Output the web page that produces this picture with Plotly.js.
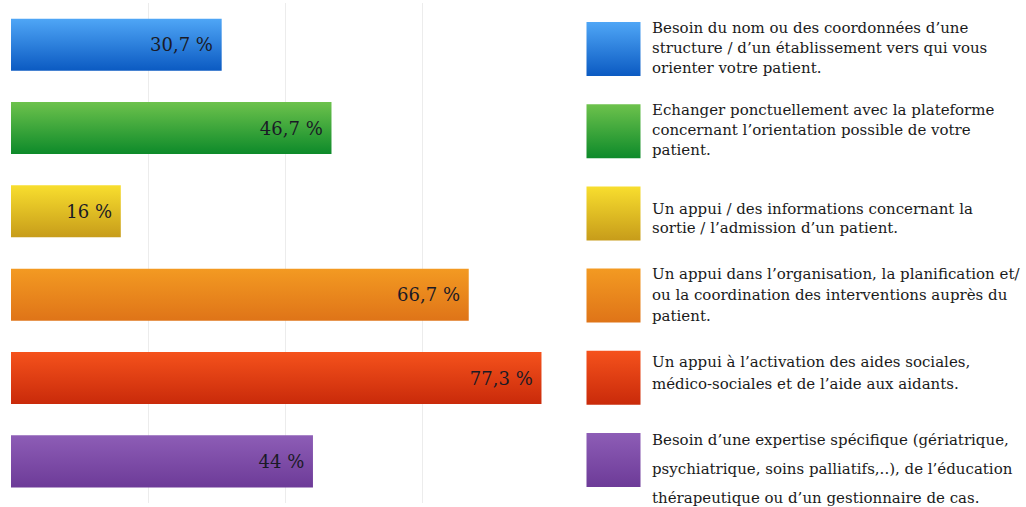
<!DOCTYPE html>
<html>
<head>
<meta charset="utf-8">
<script src="https://cdn.plot.ly/plotly-3.0.1.min.js"></script>
<style>html,body{margin:0;padding:0;background:#fff;}#chart{width:1026px;height:507px;}</style>
</head>
<body>
<div id="chart"></div>
<script>
// ---- data ----
const categories = ["besoin_nom", "echanger", "sortie", "organisation", "aides_sociales", "expertise"];
const values = [30.7, 46.7, 16, 66.7, 77.3, 44];
const valueLabels = ["30,7 %", "46,7 %", "16 %", "66,7 %", "77,3 %", "44 %"];
const legendLines = [
  ["Besoin du nom ou des coordonnées d\u2019une", "structure / d\u2019un établissement vers qui vous", "orienter votre patient."],
  ["Echanger ponctuellement avec la plateforme", "concernant l\u2019orientation possible de votre", "patient."],
  ["Un appui / des informations concernant la", "sortie / l\u2019admission d\u2019un patient."],
  ["Un appui dans l\u2019organisation, la planification et/", "ou la coordination des interventions auprès du", "patient."],
  ["Un appui à l\u2019activation des aides sociales,", "médico-sociales et de l\u2019aide aux aidants."],
  ["Besoin d\u2019une expertise spécifique (gériatrique,", "psychiatrique, soins palliatifs,..), de l\u2019éducation", "thérapeutique ou d\u2019un gestionnaire de cas."]
];
const xTicks = [0, 20, 40, 60, 80];

// ---- styles ----
const gradTop = ["#4fa6f6", "#6dc24c", "#f8de2e", "#f39a22", "#f5521c", "#8d5db6"];
const gradBot = ["#0b5ac2", "#0d8a2a", "#c79c1a", "#df7418", "#c92a0a", "#6d3b98"];
const midCol  = ["#2b80dc", "#3ca63a", "#e4bd24", "#e9871d", "#e03e13", "#7d4ca7"];
const lineGap = [20, 20, 19, 21, 22, 29];
const legendShift = [1, 1, -5.5, 1, 5, -9];
const serif = "DejaVu Serif";

const annotations = [];
legendLines.forEach((lines, i) => {
  const n = lines.length;
  lines.forEach((t, j) => {
    annotations.push({
      xref: "paper", yref: "y2", x: 0.6295, y: categories[i],
      xanchor: "left", yanchor: "middle",
      yshift: -((j - (n - 1) / 2) * lineGap[i]) + legendShift[i],
      text: t, showarrow: false,
      font: {family: serif, size: 15, color: "#1a1a1a"}
    });
  });
});

const traces = [
  {
    type: "bar", orientation: "h",
    y: categories, x: values,
    text: valueLabels.map(s => s + "\u00a0"),
    textposition: "inside", insidetextanchor: "end",
    textfont: {family: serif, size: 18, color: "#1a1a26"},
    marker: {color: midCol, line: {width: 0}},
    hoverinfo: "none", cliponaxis: false
  },
  {
    type: "scatter", mode: "markers",
    xaxis: "x2", yaxis: "y2",
    y: categories, x: categories.map(() => 0.5),
    marker: {symbol: "square", size: 54, color: midCol, line: {width: 0}},
    hoverinfo: "none", cliponaxis: false
  }
];

const layout = {
  width: 1026, height: 507,
  margin: {l: 11, r: 0, t: 3, b: 4},
  paper_bgcolor: "#fff", plot_bgcolor: "#fff",
  showlegend: false,
  bargap: 0.375,
  font: {family: serif},
  xaxis: {
    domain: [0, 0.5409], range: [0, 80],
    tickvals: xTicks, showticklabels: false, ticks: "",
    showgrid: true, gridcolor: "#ececec", gridwidth: 1,
    zeroline: false, showline: false, fixedrange: true
  },
  xaxis2: {
    domain: [0.5655, 0.6217], range: [0, 1], anchor: "y2",
    showgrid: false, zeroline: false, showticklabels: false, showline: false
  },
  yaxis: {
    type: "category", range: [5.5, -0.5], autorange: false,
    showticklabels: false, ticks: "", showgrid: false, zeroline: false, showline: false
  },
  yaxis2: {
    type: "category", range: [5.5, -0.5], autorange: false, anchor: "x2",
    domain: [0.004, 0.990],
    showticklabels: false, ticks: "", showgrid: false, zeroline: false, showline: false
  },
  annotations: annotations
};

Plotly.newPlot("chart", traces, layout, {staticPlot: true, displayModeBar: false}).then(gd => {
  const NS = "http://www.w3.org/2000/svg";
  const svg = gd.querySelector(".main-svg");
  let defs = svg.querySelector("defs");
  if (!defs) { defs = document.createElementNS(NS, "defs"); svg.insertBefore(defs, svg.firstChild); }
  gradTop.forEach((c, i) => {
    const lg = document.createElementNS(NS, "linearGradient");
    lg.setAttribute("id", "bargrad" + i);
    lg.setAttribute("x1", "0"); lg.setAttribute("y1", "0");
    lg.setAttribute("x2", "0"); lg.setAttribute("y2", "1");
    const s1 = document.createElementNS(NS, "stop");
    s1.setAttribute("offset", "0"); s1.setAttribute("stop-color", c);
    const s2 = document.createElementNS(NS, "stop");
    s2.setAttribute("offset", "1"); s2.setAttribute("stop-color", gradBot[i]);
    lg.appendChild(s1); lg.appendChild(s2);
    defs.appendChild(lg);
  });
  gd.querySelectorAll(".barlayer .point path").forEach((p, i) => {
    p.style.fill = "url(#bargrad" + i + ")";
  });
  gd.querySelectorAll(".scatterlayer .point").forEach((p, i) => {
    p.style.fill = "url(#bargrad" + i + ")";
  });
});
</script>
</body>
</html>
